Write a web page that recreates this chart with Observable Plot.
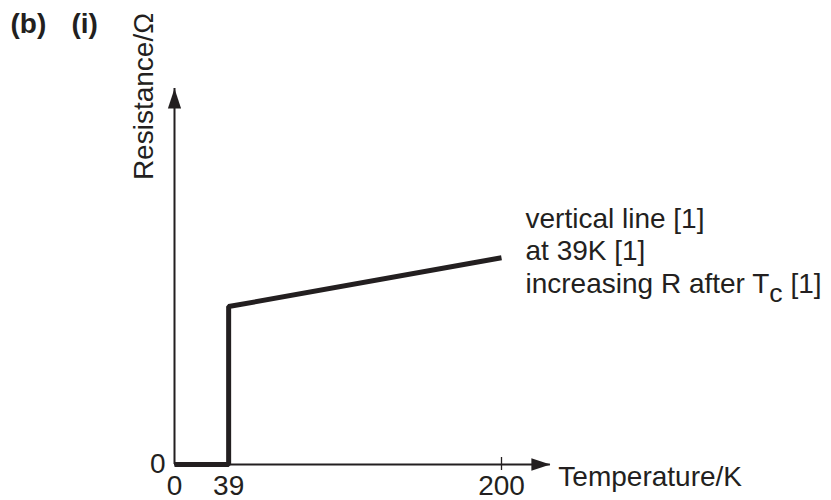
<!DOCTYPE html>
<html>
<head>
<meta charset="utf-8">
<script src="https://cdn.jsdelivr.net/npm/d3@7"></script>
<script src="https://cdn.jsdelivr.net/npm/@observablehq/plot@0.6"></script>
<style>
  body { margin: 0; background: white; }
</style>
</head>
<body>
<div id="chart"></div>
<script>
// ---- data ----
const temperature = [0, 39, 39, 200];
const resistance = [0, 0, 42, 55];
const xTicks = [0, 39, 200];
const xMarkedTick = [200];
const yTicks = [0];
const xLabel = "Temperature/K";
const yLabel = "Resistance/Ω";
const annotationLines = ["vertical line [1]", "at 39K [1]", "increasing R after T_c [1]"];
const partLabel = "(b)";
const subPartLabel = "(i)";
const xAxisEnd = 227;   // temperature at the tip of the x-axis arrow
const yAxisEnd = 100;   // resistance at the tip of the y-axis arrow

const curve = temperature.map((t, i) => ({t, r: resistance[i]}));

const ink = "#231f20";
const font = "Liberation Sans, Arial, Helvetica, sans-serif";

// filled, narrow arrowhead with its tip at the anchor (pointing up when rotate = 0)
const arrowHead = {
  draw(ctx, size) {
    const r = Math.sqrt(size / Math.PI);
    ctx.moveTo(0, 0);
    ctx.lineTo(r * 0.33, r);
    ctx.lineTo(-r * 0.33, r);
    ctx.closePath();
  }
};

const chart = Plot.plot({
  width: 831,
  height: 500,
  marginLeft: 174,
  marginRight: 330,
  marginTop: 88,
  marginBottom: 36,
  style: {fontFamily: font, fontSize: "28px", color: ink, background: "white", overflow: "visible"},
  // the hand sketch is not drawn to scale: a slightly stretched scale puts 39 where it was drawn
  x: {type: "pow", exponent: 1.1, domain: [0, 200], range: [174, 501], axis: null},
  y: {domain: [0, yAxisEnd], axis: null},
  marks: [
    // axes lines
    Plot.ruleY([0], {x1: 0, x2: xAxisEnd, stroke: ink, strokeWidth: 2}),
    Plot.ruleX([0], {y1: 0, y2: yAxisEnd, stroke: ink, strokeWidth: 2}),
    // arrowheads
    Plot.dot([0], {x: xAxisEnd, y: 0, symbol: arrowHead, r: 19, rotate: 90, fill: ink, stroke: "none"}),
    Plot.dot([0], {x: 0, y: yAxisEnd, symbol: arrowHead, r: 20, rotate: 0, fill: ink, stroke: "none"}),
    // tick mark at 200 (crossing the axis)
    Plot.axisX({ticks: xMarkedTick, tickSize: 13, dy: -7, tickFormat: () => "", label: null, stroke: ink, strokeWidth: 1.3}),
    // tick labels
    Plot.axisX({ticks: xTicks, tickSize: 0, tickPadding: 11, fontSize: 28, label: null, tickFormat: d => String(d)}),
    Plot.axisY({ticks: yTicks, tickSize: 0, tickPadding: 9, fontSize: 28, label: null, tickFormat: d => String(d)}),
    // the sketch curve
    Plot.line(curve, {x: "t", y: "r", stroke: ink, strokeWidth: 5, strokeLinejoin: "miter", strokeLinecap: "butt"}),
    // axis labels
    Plot.text([xLabel], {x: xAxisEnd, y: 0, text: d => d, textAnchor: "start", dx: 8, dy: 13, fontSize: 28, fill: ink}),
    Plot.text([yLabel], {x: 0, y: yAxisEnd, text: d => d, rotate: -90, textAnchor: "middle", dx: -30, dy: 8, fontSize: 28, fill: ink}),
    // annotation next to the end of the curve
    Plot.text([annotationLines.join("\n")], {
      x: temperature[temperature.length - 1],
      y: resistance[resistance.length - 1],
      text: d => d, textAnchor: "start", lineAnchor: "middle", lineHeight: 1.16,
      dx: 24, dy: -8, fontSize: 28, fill: ink
    }),
    // part labels
    Plot.text([partLabel], {frameAnchor: "top-left", text: d => d, textAnchor: "start", lineAnchor: "top", dx: -164, dy: -75, fontSize: 28, fontWeight: "bold", fill: ink}),
    Plot.text([subPartLabel], {frameAnchor: "top-left", text: d => d, textAnchor: "start", lineAnchor: "top", dx: -103, dy: -75, fontSize: 28, fontWeight: "bold", fill: ink})
  ]
});

// render the "T_c" as T with a subscript c
chart.querySelectorAll("tspan").forEach(t => {
  const s = t.textContent;
  if (s.includes("T_c")) {
    const [a, b] = s.split("T_c");
    t.textContent = "";
    t.appendChild(document.createTextNode(a + "T"));
    const sub = document.createElementNS("http://www.w3.org/2000/svg", "tspan");
    sub.setAttribute("dy", "9");
    sub.setAttribute("font-size", "0.95em");
    sub.textContent = "c";
    t.appendChild(sub);
    const rest = document.createElementNS("http://www.w3.org/2000/svg", "tspan");
    rest.setAttribute("dy", "-9");
    rest.textContent = b;
    t.appendChild(rest);
  }
});

document.getElementById("chart").appendChild(chart);
</script>
</body>
</html>
